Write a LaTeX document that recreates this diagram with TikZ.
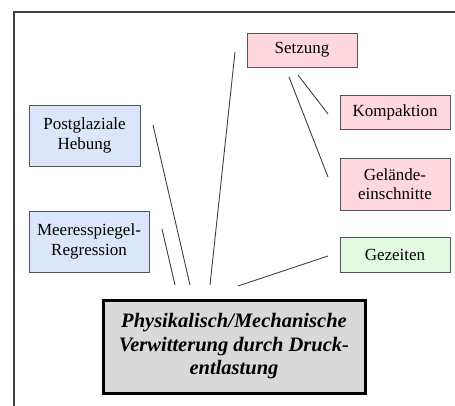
\documentclass[tikz,border=0pt]{standalone}
\usepackage{fontspec}
\setmainfont{Liberation Serif}
\definecolor{pinkfill}{RGB}{255,215,222}
\definecolor{bluefill}{RGB}{220,230,250}
\definecolor{greenfill}{RGB}{226,250,226}
\definecolor{mainfill}{RGB}{217,217,217}
\definecolor{edge}{RGB}{85,85,85}
\begin{document}
\begin{tikzpicture}[x=1pt,y=-1pt]
\tikzstyle{every node}+=[inner sep=0pt]
\tikzstyle{box}=[draw=edge, line width=0.9pt, align=center, font=\fontsize{17}{19.5}\selectfont, minimum width=110pt]
\tikzstyle{pinkbox}=[box, fill=pinkfill]
\tikzstyle{bluebox}=[box, fill=bluefill]
\tikzstyle{greenbox}=[box, fill=greenfill]
\tikzstyle{mainbox}=[draw=black, line width=3pt, fill=mainfill, align=center, font=\fontsize{20.5}{23.5}\selectfont\bfseries\itshape, minimum width=262pt, minimum height=93pt]
\tikzstyle{link}=[draw=black!75, line width=0.9pt]
\useasboundingbox (0,0) rectangle (455,406);
\draw [black!75, line width=1.5pt] (14,406) -- (14,12) -- (455,12);
\node [pinkbox, minimum height=34pt] (setzung) at (302,50) {Setzung};
\node [pinkbox, minimum height=34pt] (kompaktion) at (395,112) {Kompaktion};
\node [pinkbox, minimum height=52pt] (gelaende) at (395,184) {Gelände-\\einschnitte};
\node [greenbox, minimum height=35pt] (gezeiten) at (395,254.5) {Gezeiten};
\node [bluebox, minimum width=111pt, minimum height=61pt] (hebung) at (84.5,135.5) {Postglaziale\\Hebung};
\node [bluebox, minimum width=120pt, minimum height=61pt] (regression) at (89,241.5) {Meeresspiegel-\\Regression};
\node [mainbox] (druck) at (234,346.5) {Physikalisch/Mechanische\\Verwitterung durch Druck-\\entlastung};
% free line ends
\coordinate (hebungA) at (153,125);
\coordinate (hebungB) at (190,285);
\coordinate (regressionA) at (162,229);
\coordinate (regressionB) at (175,285);
\coordinate (setzungA) at (235,52);
\coordinate (setzungB) at (210,285);
\coordinate (gezeitenA) at (328,256);
\coordinate (gezeitenB) at (238,286);
\coordinate (kompaktionA) at (298,75);
\coordinate (kompaktionB) at (328,114);
\coordinate (gelaendeA) at (289,77);
\coordinate (gelaendeB) at (328,177);
\draw [link] (hebungA) -- (hebungB);
\draw [link] (regressionA) -- (regressionB);
\draw [link] (setzungA) -- (setzungB);
\draw [link] (gezeitenA) -- (gezeitenB);
\draw [link] (kompaktionA) -- (kompaktionB);
\draw [link] (gelaendeA) -- (gelaendeB);
\end{tikzpicture}
\end{document}
